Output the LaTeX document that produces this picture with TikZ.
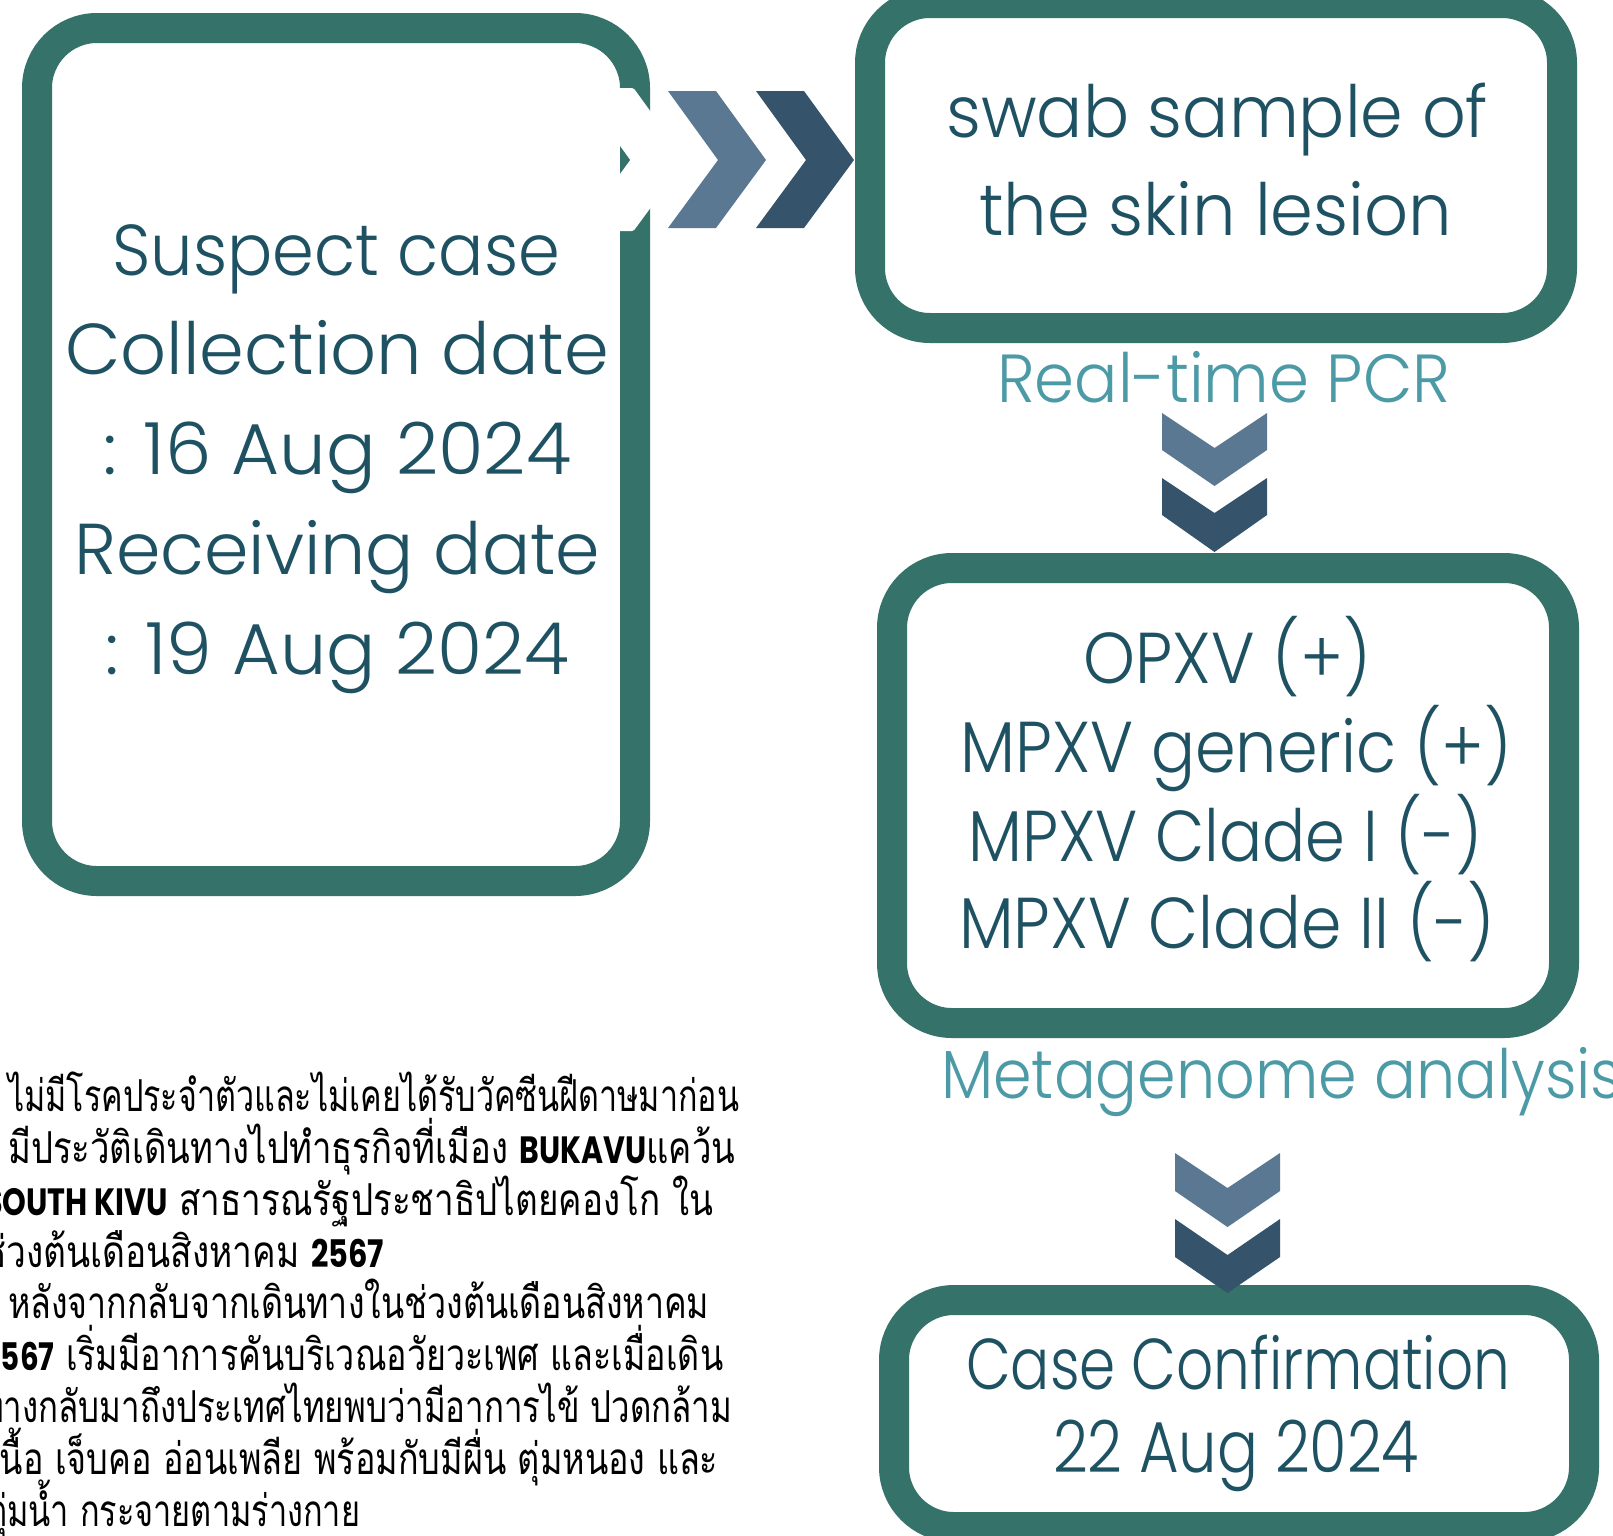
\documentclass[tikz,border=0pt]{standalone}
\usepackage{fontspec}
\usepackage{graphicx}
\IfFontExistsTF{Poppins Light}{\newfontfamily\boxfont{Poppins Light}}{\newfontfamily\boxfont{Poppins}}
\newfontfamily\thaifont[Script=Thai]{Loma}
\newfontfamily\boldlatin{Poppins}

\definecolor{boxteal}{RGB}{52,114,106}
\definecolor{txtdark}{RGB}{30,82,99}
\definecolor{labelteal}{RGB}{75,154,166}
\definecolor{chevlight}{RGB}{90,120,145}
\definecolor{chevdark}{RGB}{53,83,106}

% scale #3 horizontally so that reference text #2 becomes #1 pt wide
\newsavebox\measbox
\newdimen\measdim
\newcommand\xfit[3]{\sbox\measbox{#2}\measdim=\wd\measbox\pgfmathsetmacro\fitratio{#1/\measdim}\scalebox{\fitratio}[1]{#3}}
\newcommand\fitw[2]{\xfit{#1}{#2}{#2}}
\newcommand\hb[1]{{\boldlatin\bfseries\fontsize{38}{44}\selectfont #1}}

\begin{document}
\begin{tikzpicture}[x=1pt,y=-1pt,
  flowbox/.style={draw=boxteal, line width=30pt, rounded corners=60pt, inner sep=0pt, outer sep=0pt},
  boxtxt/.style={inner sep=0pt, anchor=base west, text=txtdark, font=\boxfont\fontsize{72}{80}\selectfont},
  labeltxt/.style={inner sep=0pt, anchor=base west, text=labelteal, font=\boxfont\fontsize{68}{76}\selectfont},
  thaitxt/.style={inner sep=0pt, anchor=base west, text=black, font=\thaifont\fontsize{44}{52}\selectfont},
  chevL/.style={fill=chevlight},
  chevD/.style={fill=chevdark}]

\useasboundingbox (0,0) rectangle (1613,1535);
\clip (0,0) rectangle (1613,1535);
\fill[white] (0,0) rectangle (1613,1535);

% the four rounded boxes
\node[flowbox, minimum width=598pt, minimum height=853pt] (suspect) at (336,454.5) {};
\node[flowbox, minimum width=692pt, minimum height=325pt] (swab) at (1216,165.5) {};
\node[flowbox, minimum width=672pt, minimum height=455pt] (pcr) at (1228,795.5) {};
\node[flowbox, minimum width=690pt, minimum height=227pt] (confirm) at (1239,1413.5) {};

% white chevron cutting the right border of the first box
\filldraw[white, line width=6pt, line join=round]
  (584,91) -- (632,91) -- (682,160) -- (632,228) -- (584,228) -- (634,160) -- cycle;

% horizontal chevrons
\fill[chevL] (668,91) -- (716,91) -- (766,160) -- (716,228) -- (668,228) -- (718,160) -- cycle;
\fill[chevD] (756,91) -- (804,91) -- (854,160) -- (804,228) -- (756,228) -- (806,160) -- cycle;

% vertical chevrons below the swab box
\fill[chevL] (1162,413) -- (1214.5,448) -- (1267,413) -- (1267,450) -- (1214.5,486) -- (1162,450) -- cycle;
\fill[chevD] (1162,478) -- (1214.5,513) -- (1267,478) -- (1267,515) -- (1214.5,552) -- (1162,515) -- cycle;

% vertical chevrons below the result box
\fill[chevL] (1175,1153) -- (1227.5,1188) -- (1280,1153) -- (1280,1191) -- (1227.5,1227) -- (1175,1191) -- cycle;
\fill[chevD] (1175,1219) -- (1227.5,1255) -- (1280,1219) -- (1280,1257) -- (1227.5,1293) -- (1175,1257) -- cycle;

% text of the first box
\node[boxtxt] (s1) at (112,275) {\fitw{448}{Suspect case}};
\node[boxtxt] (s2) at (65,374) {\fitw{544}{Collection date}};
\node[boxtxt] (s3) at (103,474) {\fitw{468}{: 16 Aug 2024}};
\node[boxtxt] (s4) at (74,574) {\fitw{526}{Receiving date}};
\node[boxtxt] (s5) at (105,674) {\fitw{464}{: 19 Aug 2024}};

% swab box
\node[boxtxt] (w1) at (946,137) {\fitw{542}{swab sample of}};
\node[boxtxt] (w2) at (979,235) {\fitw{473}{the skin lesion}};
\node[labeltxt] (lab1) at (997,402) {\fitw{453}{Real-time PCR}};

% result box
\node[boxtxt] (r1) at (1083,683) {\fitw{288}{OPXV (+)}};
\node[boxtxt] (r2) at (960,772) {\fitw{552}{MPXV generic (+)}};
\node[boxtxt] (r3) at (968,861) {\fitw{514}{MPXV Clade I (-)}};
\node[boxtxt] (r4) at (959,948) {\fitw{536}{MPXV Clade II (-)}};
\node[labeltxt] (lab2) at (941,1098) {\xfit{416}{Metagenome}{Metagenome analysis}};

% confirmation box
\node[boxtxt] (c1) at (966,1389) {\fitw{544}{Case Confirmation}};
\node[boxtxt] (c2) at (1053,1472) {\fitw{366}{22 Aug 2024}};

% case history
\node[thaitxt] (h1) at (8,1111) {\fitw{731}{ไม่มีโรคประจำตัวและไม่เคยได้รับวัคซีนฝีดาษมาก่อน}};
\node[thaitxt] (h2) at (8,1163) {\fitw{727}{มีประวัติเดินทางไปทำธุรกิจที่เมือง \hb{BUKAVU}แคว้น}};
\node[thaitxt] (h3) at (-16,1215) {\fitw{729}{\hb{SOUTH KIVU} สาธารณรัฐประชาธิปไตยคองโก ใน}};
\node[thaitxt] (h4) at (-18,1267) {\fitw{402}{ช่วงต้นเดือนสิงหาคม \hb{2567}}};
\node[thaitxt] (h5) at (8,1318) {\fitw{701}{หลังจากกลับจากเดินทางในช่วงต้นเดือนสิงหาคม}};
\node[thaitxt] (h6) at (-16,1370) {\fitw{739}{\hb{2567} เริ่มมีอาการคันบริเวณอวัยวะเพศ และเมื่อเดิน}};
\node[thaitxt] (h7) at (-18,1422) {\fitw{750}{ทางกลับมาถึงประเทศไทยพบว่ามีอาการไข้ ปวดกล้าม}};
\node[thaitxt] (h8) at (-12,1474) {\fitw{730}{เนื้อ เจ็บคอ อ่อนเพลีย พร้อมกับมีผื่น ตุ่มหนอง และ}};
\node[thaitxt] (h9) at (-14,1526) {\fitw{374}{ตุ่มน้ำ กระจายตามร่างกาย}};
\end{tikzpicture}
\end{document}
